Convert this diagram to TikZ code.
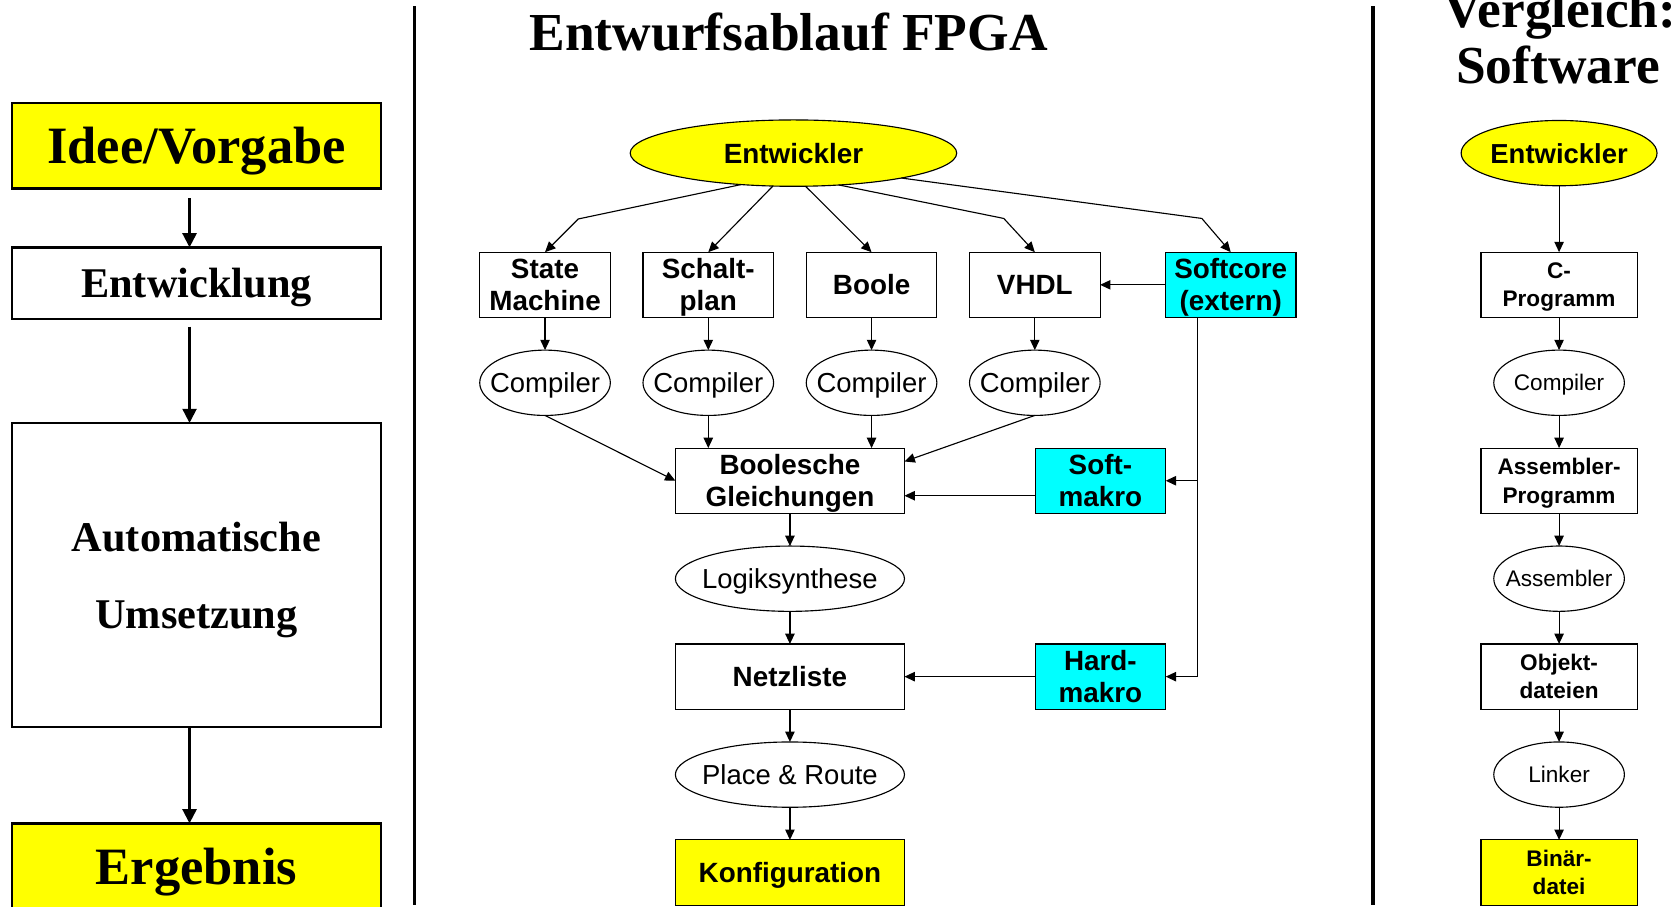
\documentclass[tikz,border=0pt]{standalone}
\usepackage{fontspec}
\setmainfont{Liberation Serif}
\setsansfont{Liberation Sans}
\usepackage{tikz}
\usetikzlibrary{arrows.meta,positioning,calc,shapes.geometric}
\definecolor{flowyellow}{RGB}{255,255,0}
\definecolor{flowcyan}{RGB}{0,255,255}

\begin{document}
\begin{tikzpicture}[x=0.02cm, y=-0.02cm, node distance=0.61cm,
    every node/.style={inner sep=0pt, outer sep=0pt, text depth=0pt, align=center},
    arr/.style={-{Triangle[length=5.5pt,width=5pt]}, line width=0.6pt},
    bigarr/.style={-{Triangle[length=7.5pt,width=7.5pt]}, line width=1.1pt},
    stepbox/.style={draw, line width=0.6pt, minimum width=2.44cm, minimum height=1.22cm,
      font=\sffamily\bfseries\fontsize{14.8}{17}\selectfont},
    tool/.style={draw, ellipse, line width=0.6pt, inner xsep=-10pt, minimum width=2.44cm,
      minimum height=1.22cm, font=\sffamily\fontsize{14.6}{17}\selectfont},
    swbox/.style={stepbox, minimum width=2.92cm, font=\sffamily\bfseries\fontsize{12}{15}\selectfont},
    swtool/.style={tool, font=\sffamily\fontsize{12}{15}\selectfont},
    bigbox/.style={draw, line width=1.3pt, minimum width=6.9cm, font=\bfseries\fontsize{22.5}{41}\selectfont},
    title/.style={font=\bfseries\fontsize{28.4}{32}\selectfont, anchor=base}]
  \clip (0,0) rectangle (1568,847);

  % linke Spalte
  \node[bigbox, fill=flowyellow, minimum height=1.6cm, font=\bfseries\fontsize{27.9}{32}\selectfont] (idee) at (183.5,136) {Idee/Vorgabe};
  \node[bigbox, minimum height=1.34cm, below=1.1cm of idee] (entw) {Entwicklung};
  \node[bigbox, minimum height=5.68cm, below=1.94cm of entw] (auto) {Automatische\\Umsetzung};
  \node[bigbox, fill=flowyellow, minimum height=1.6cm, below=1.8cm of auto, font=\bfseries\fontsize{27.9}{32}\selectfont] (erg) {Ergebnis};
  \draw[bigarr] ([xshift=-0.13cm,yshift=-0.18cm]idee.south) -- ([xshift=-0.13cm]entw.north);
  \draw[bigarr] ([xshift=-0.13cm,yshift=-0.14cm]entw.south) -- ([xshift=-0.13cm]auto.north);
  \draw[bigarr] ([xshift=-0.13cm]auto.south) -- ([xshift=-0.13cm]erg.north);

  \draw[line width=2pt] (387,6) -- (387,845);
  \draw[line width=2pt] (1282,6) -- (1282,845);

  % FPGA
  \node[title] (fpga) at (736.5,47) {Entwurfsablauf FPGA};
  \node[draw, ellipse, fill=flowyellow, line width=0.6pt, inner xsep=-10pt, minimum width=6.1cm, minimum height=1.24cm,
    font=\sffamily\bfseries\fontsize{14.8}{17}\selectfont] (ent) at (741,143) {Entwickler};

  \node[stepbox] (sm) at (509,266) {State\\Machine};
  \node[stepbox, right=of sm] (sp) {Schalt-\\plan};
  \node[stepbox, right=of sp] (bo) {Boole};
  \node[stepbox, right=of bo] (vh) {VHDL};
  \node[stepbox, fill=flowcyan, right=1.22cm of vh] (sc) {Softcore\\(extern)};

  \node[tool, below=of sm] (c1) {Compiler};
  \node[tool, below=of sp] (c2) {Compiler};
  \node[tool, below=of bo] (c3) {Compiler};
  \node[tool, below=of vh] (c4) {Compiler};

  \node[stepbox, minimum width=4.28cm, below=of $(c2.south)!.5!(c3.south)$] (bg) {Boolesche\\Gleichungen};
  \node[stepbox, fill=flowcyan, right=2.44cm of bg] (sfm) {Soft-\\makro};
  \node[tool, minimum width=4.28cm, below=of bg] (ls) {Logiksynthese};
  \node[stepbox, minimum width=4.28cm, below=of ls] (nl) {Netzliste};
  \node[stepbox, fill=flowcyan, right=2.44cm of nl] (hm) {Hard-\\makro};
  \node[tool, minimum width=4.28cm, below=of nl] (pr) {Place \& Route};
  \node[stepbox, fill=flowyellow, minimum width=4.28cm, below=of pr] (konf) {Konfiguration};

  \draw[arr] (ent.211) -- ([shift={(31,-31)}]sm.north) -- (sm.north);
  \draw[arr] (ent.238) -- (sp.north);
  \draw[arr] (ent.290) -- (bo.north);
  \draw[arr] (ent.325) -- ([shift={(-29,-31.5)}]vh.north) -- (vh.north);
  \draw[arr] (ent.347) -- ([shift={(-27,-31.5)}]sc.north) -- (sc.north);
  \draw[arr] (sc.west) -- (vh.east);

  \draw[arr] (sm) -- (c1);
  \draw[arr] (sp) -- (c2);
  \draw[arr] (bo) -- (c3);
  \draw[arr] (vh) -- (c4);

  \draw[arr] (c1.south) -- (bg.west);
  \draw[arr] (c2.south) -- (c2.south |- bg.north);
  \draw[arr] (c3.south) -- (c3.south |- bg.north);
  \draw[arr] (c4.south) -- ([yshift=0.36cm]bg.east);

  \coordinate (tap) at ([xshift=-0.62cm]sc.south);
  \draw[arr] (tap) |- (hm.east);
  \draw[arr] (tap) |- (sfm.east);
  \draw[arr] ([yshift=-0.28cm]sfm.west) -- ([yshift=-0.28cm]bg.east);
  \draw[arr] (hm) -- (nl);

  \draw[arr] (bg) -- (ls);
  \draw[arr] (ls) -- (nl);
  \draw[arr] (nl) -- (pr);
  \draw[arr] (pr) -- (konf);

  % Vergleich Software
  \node[title] (vgl) at (1457,26) {Vergleich:};
  \node[title] (sw) at (1455,78) {Software};
  \node[draw, ellipse, fill=flowyellow, line width=0.6pt, inner xsep=-10pt, minimum width=3.66cm, minimum height=1.22cm,
    font=\sffamily\bfseries\fontsize{14.6}{17}\selectfont] (swent) at (1456,143) {Entwickler};
  \node[swbox, below=1.24cm of swent] (cprog) {C-\\Programm};
  \node[swtool, below=of cprog] (swcomp) {Compiler};
  \node[swbox, below=of swcomp] (asmprog) {Assembler-\\Programm};
  \node[swtool, below=of asmprog] (asm) {Assembler};
  \node[swbox, below=of asm] (obj) {Objekt-\\dateien};
  \node[swtool, below=of obj] (link) {Linker};
  \node[swbox, fill=flowyellow, below=of link] (bin) {Binär-\\datei};

  \draw[arr] (swent) -- (cprog);
  \draw[arr] (cprog) -- (swcomp);
  \draw[arr] (swcomp) -- (asmprog);
  \draw[arr] (asmprog) -- (asm);
  \draw[arr] (asm) -- (obj);
  \draw[arr] (obj) -- (link);
  \draw[arr] (link) -- (bin);
\end{tikzpicture}
\end{document}
